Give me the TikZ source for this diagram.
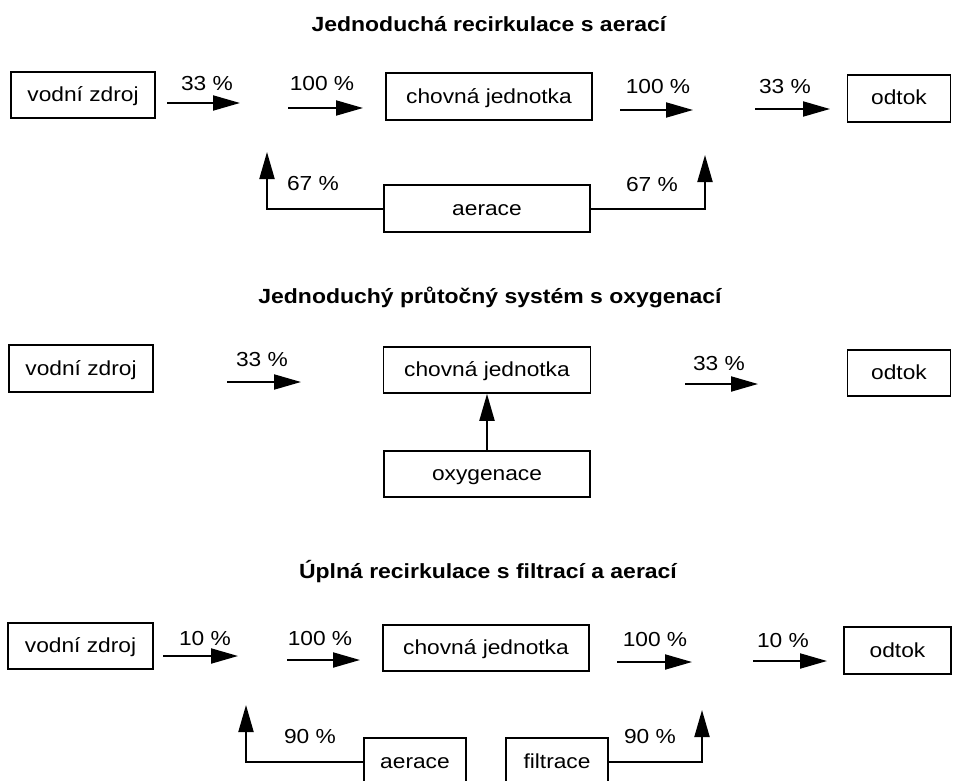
\documentclass[tikz,border=0pt]{standalone}
\usepackage{fontspec}
\setmainfont[FakeStretch=1.12]{Liberation Sans}
\usetikzlibrary{arrows.meta}
\begin{document}
\begin{tikzpicture}[x=1pt,y=-1pt,
  box/.style={draw, line width=1.6pt, inner sep=0pt, text height=17pt, text depth=4pt, font=\fontsize{20.3}{24}\selectfont},
  lbl/.style={inner sep=0pt, text height=14.5pt, text depth=0pt, font=\fontsize{20.3}{24}\selectfont},
  ttl/.style={inner sep=0pt, text height=15pt, text depth=5pt, font=\fontsize{20.5}{24}\selectfont\bfseries},
  flow/.style={line width=2pt, -{Triangle[length=27pt,width=15pt]}}]
\useasboundingbox[fill=white] (0,0) rectangle (955,781);

% ---------- Section 1 ----------
\node[ttl] (t1) at (489,27) {Jednoduchá recirkulace s aerací};
\node[box, minimum width=144pt, minimum height=46pt] (v1) at (83,95) {vodní zdroj};
\node[box, minimum width=206pt, minimum height=47pt] (c1) at (489,96.5) {chovná jednotka};
\node[box, minimum width=103pt, minimum height=47pt] (o1) at (899,98.5) {odtok};
\node[box, minimum width=206pt, minimum height=47pt] (a1) at (487,208.5) {aerace};

\coordinate (p11) at (167,103); \coordinate (p12) at (240,103);
\coordinate (p21) at (288,108); \coordinate (p22) at (363,108);
\coordinate (p31) at (620,110); \coordinate (p32) at (693,110);
\coordinate (p41) at (755,109); \coordinate (p42) at (830,109);
\coordinate (r11) at (267,152); \coordinate (r12) at (705,155);
\draw[flow] (p11) -- (p12);
\draw[flow] (p21) -- (p22);
\draw[flow] (p31) -- (p32);
\draw[flow] (p41) -- (p42);
\draw[flow] (a1.west) -| (r11);
\draw[flow] (a1.east) -| (r12);
\node[lbl] (l11) at (207,83) {33 \%};
\node[lbl] (l12) at (322,83) {100 \%};
\node[lbl] (l13) at (658,86) {100 \%};
\node[lbl] (l14) at (785,86) {33 \%};
\node[lbl] (l15) at (313,183) {67 \%};
\node[lbl] (l16) at (652,184) {67 \%};

% ---------- Section 2 ----------
\node[ttl] (t2) at (490,298) {Jednoduchý průtočný systém s oxygenací};
\node[box, minimum width=144pt, minimum height=47pt] (v2) at (81,368.5) {vodní zdroj};
\node[box, minimum width=207pt, minimum height=46pt] (c2) at (487,370) {chovná jednotka};
\node[box, minimum width=103pt, minimum height=46pt] (o2) at (899,373) {odtok};
\node[box, minimum width=206pt, minimum height=46pt] (x2) at (487,474) {oxygenace};
\coordinate (q11) at (227,382); \coordinate (q12) at (301,382);
\coordinate (q21) at (685,384); \coordinate (q22) at (758,384);
\draw[flow] (q11) -- (q12);
\draw[flow] (q21) -- (q22);
\draw[flow] (x2.north) -- (c2.south);
\node[lbl] (l21) at (262,359) {33 \%};
\node[lbl] (l22) at (719,363) {33 \%};

% ---------- Section 3 ----------
\node[ttl] (t3) at (488,573) {Úplná recirkulace s filtrací a aerací};
\node[box, minimum width=145pt, minimum height=46pt] (v3) at (80.5,646) {vodní zdroj};
\node[box, minimum width=206pt, minimum height=46pt] (c3) at (486,648) {chovná jednotka};
\node[box, minimum width=107pt, minimum height=47pt] (o3) at (897.5,650.5) {odtok};
\node[box, minimum width=102pt, minimum height=47pt] (ae3) at (415,761.5) {aerace};
\node[box, minimum width=102pt, minimum height=47pt] (fi3) at (557,761.5) {filtrace};
\coordinate (s11) at (163,656); \coordinate (s12) at (238,656);
\coordinate (s21) at (287,660); \coordinate (s22) at (360,660);
\coordinate (s31) at (617,662); \coordinate (s32) at (692,662);
\coordinate (s41) at (753,661); \coordinate (s42) at (827,661);
\coordinate (r31) at (246,705); \coordinate (r32) at (702,710);
\draw[flow] (s11) -- (s12);
\draw[flow] (s21) -- (s22);
\draw[flow] (s31) -- (s32);
\draw[flow] (s41) -- (s42);
\draw[flow] (ae3.west) -| (r31);
\draw[flow] (fi3.east) -| (r32);
\node[lbl] (l31) at (205,638) {10 \%};
\node[lbl] (l32) at (320,638) {100 \%};
\node[lbl] (l33) at (655,639) {100 \%};
\node[lbl] (l34) at (783,640) {10 \%};
\node[lbl] (l35) at (310,736) {90 \%};
\node[lbl] (l36) at (650,736) {90 \%};
\end{tikzpicture}
\end{document}
